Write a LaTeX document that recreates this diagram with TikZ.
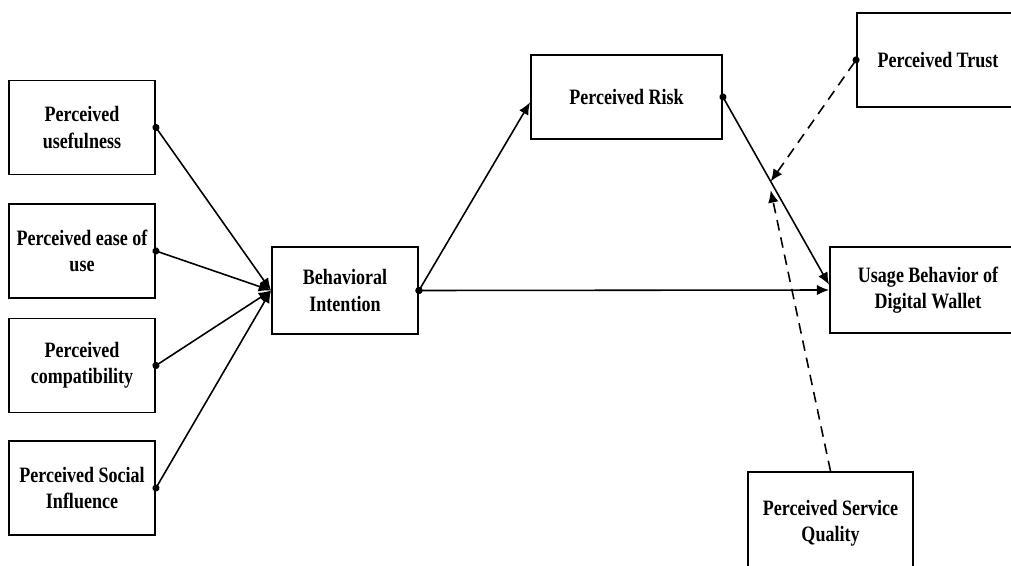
\documentclass[tikz,border=0pt]{standalone}
\usepackage{fontspec}
\setmainfont{Liberation Serif}[FakeStretch=0.82]
\usepackage{tikz}
\usetikzlibrary{arrows.meta}
\tikzset{
  box/.style={draw, line width=1.1pt, align=center, font=\bfseries\fontsize{12.5}{15}\selectfont},
  link/.style={line width=0.9pt, shorten <=-2pt, {Circle[length=4pt]}-{Latex[length=7pt,width=6pt]}},
  moder/.style={line width=0.9pt, dash pattern=on 6pt off 4pt, -{Latex[length=7pt,width=6pt]}}
}

\begin{document}
\begin{tikzpicture}[x=0.02cm, y=-0.02cm]
    % Parametri
    \pgfmathsetmacro{\bw}{2.92}
    \pgfmathsetmacro{\bh}{1.88}
    \clip (0,0) rectangle (1011,565);
    % Blocchi a sinistra
    \node[box, minimum width=\bw cm, minimum height=\bh cm] (pu) at (82,127.5) {Perceived\\usefulness};
    \node[box, minimum width=\bw cm, minimum height=\bh cm] (peou) at (82,251) {Perceived ease of\\use};
    \node[box, minimum width=\bw cm, minimum height=\bh cm] (pc) at (82,365.5) {Perceived\\compatibility};
    \node[box, minimum width=\bw cm, minimum height=\bh cm] (psi) at (82,488) {Perceived Social\\Influence};
    % Blocchi centrali e a destra
    \node[box, minimum width=\bw cm, minimum height=1.74cm] (bi) at (345,290.5) {Behavioral\\Intention};
    \node[box, minimum width=3.82cm, minimum height=1.68cm] (pr) at (626.5,97) {Perceived Risk};
    \node[box, minimum width=3.24cm, minimum height=\bh cm] (pt) at (938,60) {Perceived Trust};
    \node[box, minimum width=3.92cm, minimum height=1.72cm] (ub) at (928,290) {Usage Behavior of\\Digital Wallet};
    \node[box, minimum width=3.3cm, minimum height=2.04cm] (psq) at (830.5,523) {Perceived Service\\Quality};
    % Frecce
    \draw[link] (pu.east) -- (bi.west);
    \draw[link] (peou.east) -- (bi.west);
    \draw[link] (pc.east) -- (bi.west);
    \draw[link] (psi.east) -- (bi.west);
    \draw[link] (bi.east) -- ([yshift=-3pt]pr.west);
    \draw[link] (bi.east) -- (ub.west);
    \draw[link] (pr.east) -- ([yshift=3pt]ub.west) coordinate[pos=0.45] (mod);
    % Moderatori
    \draw[moder, shorten <=-2pt, {Circle[length=4pt]}-{Latex[length=7pt,width=6pt]}] (pt.west) -- (mod);
    \draw[moder] (psq.north) -- ([yshift=-5pt]mod);
\end{tikzpicture}
\end{document}
